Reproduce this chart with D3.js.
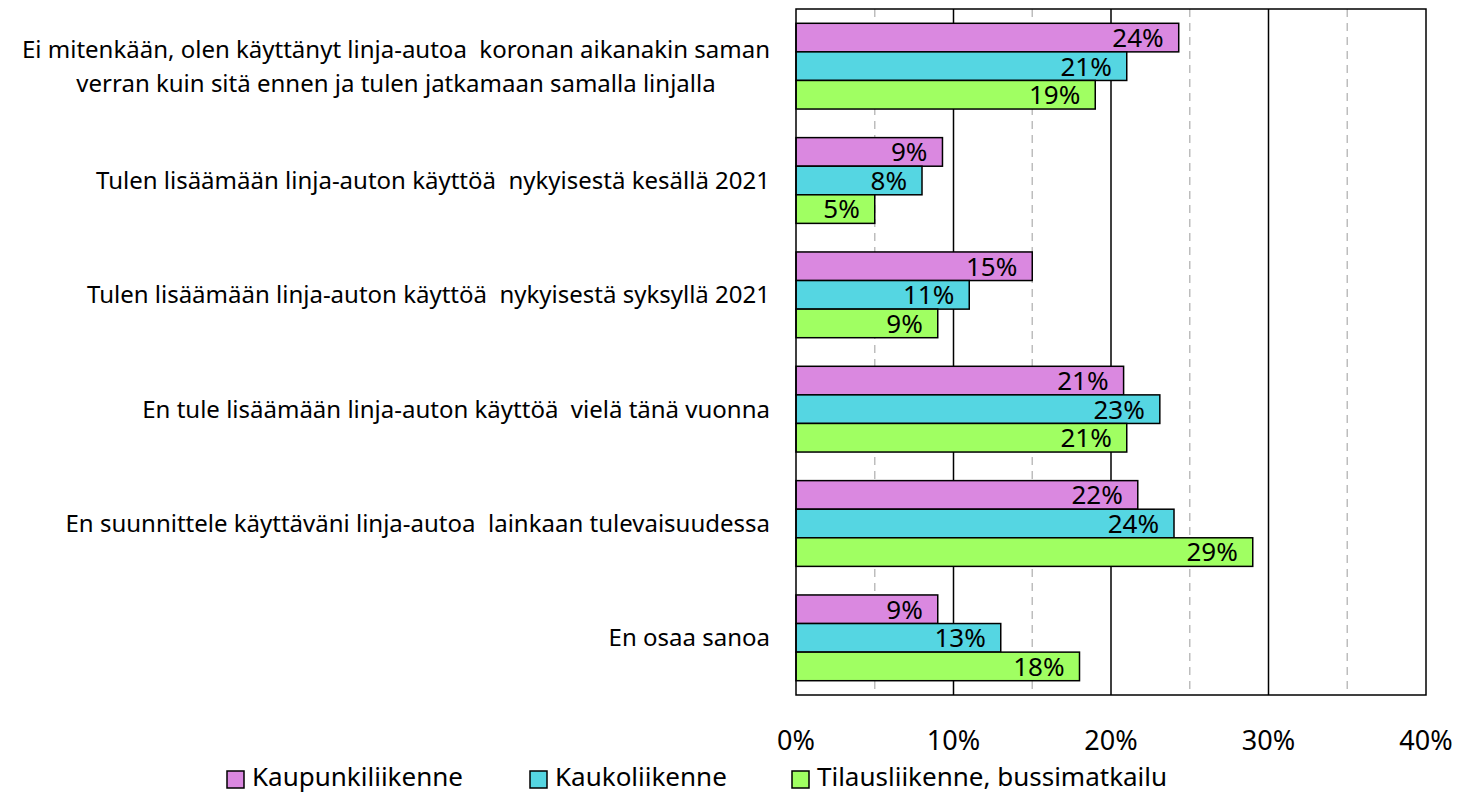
<!DOCTYPE html>
<html lang="fi">
<meta charset="utf-8">
<head>
<title>Linja-auton käyttö</title>
<script src="https://d3js.org/d3.v7.min.js"></script>
<style>
    body { margin: 0; background: #fff; }
    svg { font-family: "Noto Sans", "Open Sans", sans-serif; }
    svg text { white-space: pre; }
    .cat { font-size: 24px; fill: #000; }
    .val { font-size: 26px; fill: #000; }
    .tick-label { font-size: 27px; fill: #000; }
    .legend text { font-size: 26px; fill: #000; }
</style>
</head>
<body>
<div id="chart"></div>
<script>
// categories (each entry = lines of the label)
var categories = [
    ["Ei mitenkään, olen käyttänyt linja-autoa  koronan aikanakin saman", "verran kuin sitä ennen ja tulen jatkamaan samalla linjalla"],
    ["Tulen lisäämään linja-auton käyttöä  nykyisestä kesällä 2021"],
    ["Tulen lisäämään linja-auton käyttöä  nykyisestä syksyllä 2021"],
    ["En tule lisäämään linja-auton käyttöä  vielä tänä vuonna"],
    ["En suunnittele käyttäväni linja-autoa  lainkaan tulevaisuudessa"],
    ["En osaa sanoa"]
];
var seriesNames = ["Kaupunkiliikenne", "Kaukoliikenne", "Tilausliikenne, bussimatkailu"];
var seriesColors = ["#DA88E0", "#55D6E2", "#A0FF62"];
var kaupunki = [24.3, 9.3, 15.0, 20.8, 21.7, 9.0];
var kauko = [21.0, 8.0, 11.0, 23.1, 24.0, 13.0];
var tilaus = [19.0, 5.0, 9.0, 21.0, 29.0, 18.0];
var xTicks = [0, 10, 20, 30, 40];
var minorTicks = [5, 15, 25, 35];

var series = [kaupunki, kauko, tilaus];

var w = 1465, h = 793;
var margin = {left: 796, top: 9, right: 39, bottom: 98};
var pw = w - margin.left - margin.right;
var ph = h - margin.top - margin.bottom;

var svg = d3.select("#chart").append("svg")
    .attr("width", w).attr("height", h);

var g = svg.append("g").attr("transform", "translate(" + margin.left + "," + margin.top + ")");

var x = d3.scaleLinear().domain([0, 40]).range([0, pw]);
var y = d3.scaleBand().domain(d3.range(categories.length)).range([0, ph]).paddingInner(0.25).paddingOuter(0.125);
var ySub = d3.scaleBand().domain(d3.range(series.length)).range([0, y.bandwidth()]);

// gridlines
g.selectAll(".minor").data(minorTicks).enter().append("line")
    .attr("x1", d => x(d)).attr("x2", d => x(d))
    .attr("y1", 0).attr("y2", ph)
    .attr("stroke", "#bdbdbd").attr("stroke-width", 1.5)
    .attr("stroke-dasharray", "8,6");
g.selectAll(".major").data(xTicks.slice(1, -1)).enter().append("line")
    .attr("x1", d => x(d)).attr("x2", d => x(d))
    .attr("y1", 0).attr("y2", ph)
    .attr("stroke", "#000").attr("stroke-width", 1.5);

// bars
series.forEach(function(s, si) {
    var grp = g.append("g");
    grp.selectAll("rect").data(s).enter().append("rect")
        .attr("x", 0)
        .attr("y", (d, i) => y(i) + ySub(si))
        .attr("width", d => x(d))
        .attr("height", ySub.bandwidth())
        .attr("fill", seriesColors[si])
        .attr("stroke", "#000").attr("stroke-width", 1.5);
    grp.selectAll("text").data(s).enter().append("text")
        .attr("class", "val")
        .attr("x", d => x(d) - 15)
        .attr("y", (d, i) => y(i) + ySub(si) + ySub.bandwidth() / 2)
        .attr("dy", "0.36em")
        .attr("text-anchor", "end")
        .text(d => Math.round(d) + "%");
});

// frame
g.append("rect").attr("x", 0).attr("y", 0).attr("width", pw).attr("height", ph)
    .attr("fill", "none").attr("stroke", "#000").attr("stroke-width", 1.5);

// x tick labels
g.selectAll(".tick-label").data(xTicks).enter().append("text")
    .attr("class", "tick-label")
    .attr("x", d => x(d))
    .attr("y", ph + 45)
    .attr("dy", "0.36em")
    .attr("text-anchor", "middle")
    .text(d => d + "%");

// category labels
var lineH = 34;
categories.forEach(function(lines, i) {
    var cy = y(i) + y.bandwidth() / 2;
    var top = cy - (lines.length - 1) * lineH / 2;
    if (lines.length === 1) {
        g.append("text").attr("class", "cat")
            .attr("x", -26).attr("y", top).attr("dy", "0.35em")
            .attr("text-anchor", "end").text(lines[0]);
    } else {
        // multi-line: block right aligned, lines centered
        var tmp = g.append("text").attr("class", "cat").text(lines[0]);
        var bw = tmp.node().getComputedTextLength();
        tmp.remove();
        var cx = -26 - bw / 2;
        lines.forEach(function(l, j) {
            g.append("text").attr("class", "cat")
                .attr("x", cx).attr("text-anchor", "middle")
                .attr("y", top + j * lineH)
                .attr("dy", "0.35em")
                .text(l);
        });
    }
});

// legend
var legendX = [227, 530, 792];
var leg = svg.append("g").attr("class", "legend");
seriesNames.forEach(function(n, i) {
    leg.append("rect").attr("x", legendX[i]).attr("y", 771)
        .attr("width", 17).attr("height", 17)
        .attr("fill", seriesColors[i]).attr("stroke", "#000").attr("stroke-width", 1.5);
    leg.append("text").attr("x", legendX[i] + 25).attr("y", 777).attr("dy", "0.36em").text(n);
});
</script>
</body>
</html>
